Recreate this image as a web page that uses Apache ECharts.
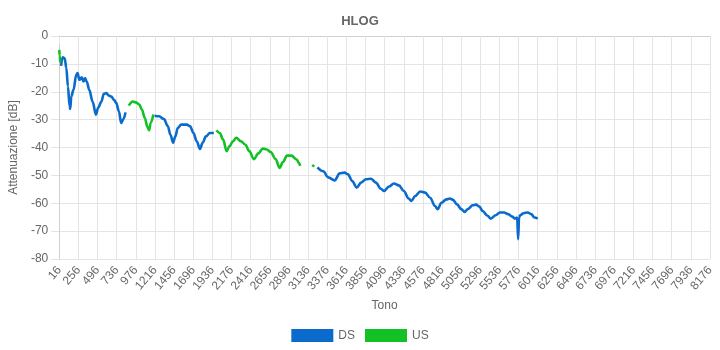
<!DOCTYPE html>
<html>
<head>
<meta charset="utf-8">
<title>HLOG</title>
<script src="https://cdn.jsdelivr.net/npm/echarts@6/dist/echarts.min.js"></script>
<style>
  html, body { margin: 0; padding: 0; background: #ffffff; }
  #chart { width: 720px; height: 350px; }
</style>
</head>
<body>
<div id="chart"></div>
<script>
// Tone axis: first tone, last tone and spacing of the labelled ticks
const toneStart = 16;
const toneEnd = 8176;
const toneStep = 240;

// Attenuation axis range and step (dB)
const dbMin = -80;
const dbMax = 0;
const dbStep = 10;

// Downstream HLOG: tone indices and attenuation (dB); null marks a gap between bands
const dsTones = [
  38, 59, 84, 105, 125, 146, 154, 167, 195, 229, 245, 269, 298, 319, 340, 360,
  393, 434, 476, 504, 545, 575, 607, 640, 669, 702, 730, 764, 792, 822, 847,
  870,
  1212, 1267, 1329, 1378, 1410, 1444, 1472, 1502, 1546, 1617, 1657, 1699, 1740,
  1781, 1814, 1855, 1905, 1954,
  1970,
  3254, 3326, 3388, 3470, 3532, 3594, 3635, 3689, 3746, 3801, 3862, 3924, 3986,
  4048, 4089, 4151, 4213, 4274, 4336, 4398, 4431, 4480, 4542, 4604, 4666, 4728,
  4760, 4809, 4871, 4913, 4954, 5003, 5057, 5099, 5140, 5201, 5242, 5284, 5325,
  5387, 5427, 5489, 5539, 5593, 5646, 5696, 5729, 5758, 5770, 5782, 5796, 5838,
  5892, 5933, 5975, 6016,
  6050,
  6086, 6094
];
const dsAtten = [
  -10.7, -7.6, -8.0, -11.5, -18.1, -25.2, -26.2, -21.7, -19.3, -13.9, -13.3, -15.7, -14.8, -16.3, -15.1, -16.3,
  -19.3, -23.5, -28.2, -25.8, -23.5, -20.7, -20.5, -21.4, -21.7, -22.9, -24.0, -27.0, -31.2, -29.8, -27.4,
  null,
  -28.6, -28.8, -29.8, -32.4, -35.4, -38.3, -36.0, -33.0, -31.8, -31.8, -32.4, -34.8, -37.8,
  -40.5, -38.3, -36.0, -34.8, -34.8,
  null,
  -47.1, -48.5, -50.7, -51.8, -49.3, -49.0, -49.6, -52.0, -54.4, -52.6, -51.4, -51.2, -52.6,
  -54.8, -55.6, -54.0, -52.9, -53.6, -55.6, -58.3, -59.2, -57.4, -55.8, -56.2, -58.0, -61.0,
  -62.1, -59.8, -58.6, -58.3, -58.8, -60.4, -62.1, -63.1, -62.1, -60.7, -60.5, -61.2, -62.8,
  -64.5, -65.5, -64.3, -63.3, -63.3, -63.9, -64.8, -65.5, -65.1, -72.9, -65.0, -64.3, -63.6,
  -63.3, -63.9, -65.1, -65.5,
  null,
  -65.5, -65.6
];

// Upstream HLOG: tone indices and attenuation (dB); null marks a gap between bands
const usTones = [
  16, 22, 28,
  33,
  888, 937, 978, 1020, 1052, 1089, 1122, 1143, 1163, 1196,
  1200,
  1987, 2028, 2070, 2115, 2152, 2194, 2235, 2296, 2350, 2399, 2457, 2513, 2568,
  2618, 2667, 2729, 2778, 2822, 2871, 2927, 2995, 3019, 3038,
  3100,
  3190, 3211
];
const usAtten = [
  -5.0, -7.0, -9.5,
  null,
  -25.0, -23.5, -23.8, -24.6, -26.4, -29.4, -32.6, -33.8, -31.2, -28.2,
  null,
  -33.8, -34.8, -37.1, -41.3, -39.5, -37.8, -36.5, -37.8, -39.0, -41.3, -44.2, -42.1, -40.4,
  -40.7, -41.6, -44.1, -47.3, -45.2, -42.9, -42.9, -44.3, -45.5, -46.6,
  null,
  -46.9, -46.2
];

const seriesNames = ['DS', 'US'];
const seriesColors = ['#0a6bcc', '#12c124'];

function pairs(tones, values) {
  return tones.map((t, i) => [t, values[i] === null ? '-' : values[i]]);
}

const FONT = '"Liberation Sans", Arial, Helvetica, sans-serif';
const TEXT = '#666666';
const GRID = '#e4e4e4';

const chart = echarts.init(document.getElementById('chart'), null, { renderer: 'canvas' });

chart.setOption({
  animation: false,
  backgroundColor: '#ffffff',
  title: {
    text: 'HLOG',
    left: 'center',
    top: 10,
    textStyle: { fontFamily: FONT, fontSize: 13, fontWeight: 'bold', color: TEXT }
  },
  legend: {
    bottom: 3,
    left: 'center',
    itemWidth: 42,
    itemHeight: 13,
    itemGap: 10,
    icon: 'rect',
    data: seriesNames,
    textStyle: { fontFamily: FONT, fontSize: 12, color: TEXT }
  },
  grid: { left: 50, right: 10, top: 36, bottom: 91, containLabel: false },
  xAxis: {
    type: 'value',
    min: toneStart,
    max: toneEnd,
    interval: toneStep,
    name: 'Tono',
    nameLocation: 'middle',
    nameGap: 41,
    nameTextStyle: { fontFamily: FONT, fontSize: 12, color: TEXT },
    axisLine: { show: true, lineStyle: { color: '#d0d0d0', width: 1 } },
    axisTick: { show: true, length: 8, lineStyle: { color: GRID } },
    splitLine: { show: true, lineStyle: { color: GRID, width: 1 } },
    axisLabel: {
      rotate: 50,
      margin: 9,
      fontFamily: FONT,
      fontSize: 12,
      color: TEXT,
      showMinLabel: true,
      showMaxLabel: true,
      formatter: (v) => String(v)
    }
  },
  yAxis: {
    type: 'value',
    min: dbMin,
    max: dbMax,
    interval: dbStep,
    name: 'Attenuazione [dB]',
    nameLocation: 'middle',
    nameGap: 36,
    nameTextStyle: { fontFamily: FONT, fontSize: 12, color: TEXT },
    axisLine: { show: true, lineStyle: { color: '#d0d0d0', width: 1 } },
    axisTick: { show: true, length: 8, lineStyle: { color: GRID } },
    splitLine: { show: true, lineStyle: { color: GRID, width: 1 } },
    axisLabel: { margin: 11, fontFamily: FONT, fontSize: 12, color: TEXT, formatter: (v) => String(v) }
  },
  series: [
    {
      name: seriesNames[0],
      type: 'line',
      data: pairs(dsTones, dsAtten),
      showSymbol: false,
      connectNulls: false,
      smooth: 0.35,
      smoothMonotone: 'x',
      color: seriesColors[0],
      lineStyle: { width: 2.6, color: seriesColors[0] }
    },
    {
      name: seriesNames[1],
      type: 'line',
      data: pairs(usTones, usAtten),
      showSymbol: false,
      connectNulls: false,
      smooth: 0.35,
      smoothMonotone: 'x',
      color: seriesColors[1],
      lineStyle: { width: 2.6, color: seriesColors[1] }
    }
  ]
});
</script>
</body>
</html>
